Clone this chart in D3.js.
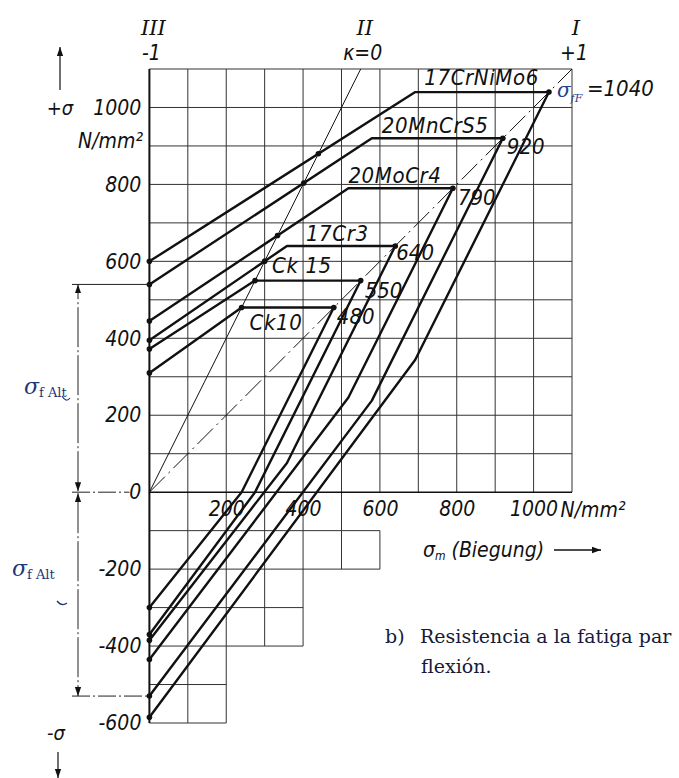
<!DOCTYPE html>
<html>
<head>
<meta charset="utf-8">
<script src="https://cdn.jsdelivr.net/npm/d3@7/dist/d3.min.js"></script>
<style>
  body { margin: 0; background: #fff; }
  svg { display: block; }
  .tech { font-family: 'Liberation Sans Narrow', 'DejaVu Sans Condensed', sans-serif; font-style: italic; fill: #111; }
  .serif { font-family: 'DejaVu Serif', serif; }
</style>
</head>
<body>
<svg id="chart" width="679" height="778"></svg>
<script>
// Smith diagram data (N/mm2)
const materials   = ["17CrNiMo6", "20MnCrS5", "20MoCr4", "17Cr3", "Ck 15", "Ck10"];
const sigmaF      = [1040, 920, 790, 640, 550, 480];      // plateau / end on the 45 deg line
const sigmaAUpper = [600, 540, 445, 395, 372, 310];       // upper line at sigma_m = 0
const sigmaALower = [-585, -530, -435, -385, -370, -300]; // lower line at sigma_m = 0
const kinkMean    = [692, 579, 518, 358, 275, 240];       // sigma_m where the plateau starts
const endLabels   = ["=1040", "920", "790", "640", "550", "480"];

const yTicks = [1000, 800, 600, 400, 200, 0, -200, -400, -600];
const xTicks = [200, 400, 600, 800, 1000];

// staircase grid below the x axis
const lowerRows = [[-100, 600], [-200, 600], [-300, 400], [-400, 400], [-500, 200], [-600, 200]];
const lowerCols = [[100, 0, -600], [200, 0, -600], [300, 0, -400], [400, 0, -400], [500, 0, -200], [600, -100, -200]];

// label placement (pixel offsets)
const nameOffset = [[9, -7], [10, -5], [0, -5], [19, -5], [17, -8], [8, 22]];
const endOffset  = [[38, 4], [4, 16], [5, 17], [1, 14], [4, 17], [3, 16]];

const svg = d3.select("#chart");
const x = d3.scaleLinear().domain([0, 1100]).range([149.4, 572]);
const y = d3.scaleLinear().domain([-600, 1100]).range([723, 69]);

const defs = svg.append("defs");
defs.append("marker").attr("id", "arr").attr("viewBox", "0 0 10 10")
  .attr("refX", 10).attr("refY", 5).attr("markerWidth", 9).attr("markerHeight", 9)
  .attr("markerUnits", "userSpaceOnUse").attr("orient", "auto-start-reverse")
  .append("path").attr("d", "M0,1.5L10,5L0,8.5Z").attr("fill", "#111");

const grid = svg.append("g").attr("stroke", "#333").attr("stroke-width", 1).attr("fill", "none");

// upper grid
grid.selectAll("line.v").data(d3.range(100, 1101, 100)).join("line").attr("class", "v")
  .attr("x1", d => x(d)).attr("x2", d => x(d)).attr("y1", y(0)).attr("y2", y(1100));
grid.selectAll("line.h").data(d3.range(100, 1101, 100)).join("line").attr("class", "h")
  .attr("x1", x(0)).attr("x2", x(1100)).attr("y1", d => y(d)).attr("y2", d => y(d));

// lower staircase grid
grid.selectAll("line.lh").data(lowerRows).join("line").attr("class", "lh")
  .attr("x1", x(0)).attr("x2", d => x(d[1])).attr("y1", d => y(d[0])).attr("y2", d => y(d[0]));
grid.selectAll("line.lv").data(lowerCols).join("line").attr("class", "lv")
  .attr("x1", d => x(d[0])).attr("x2", d => x(d[0])).attr("y1", d => y(d[1])).attr("y2", d => y(d[2]));

// x axis line and y axis line
svg.append("line").attr("x1", x(0)).attr("x2", x(1100)).attr("y1", y(0)).attr("y2", y(0))
  .attr("stroke", "#111").attr("stroke-width", 1.6);
svg.append("line").attr("x1", x(0)).attr("x2", x(0)).attr("y1", y(1100)).attr("y2", y(-600))
  .attr("stroke", "#111").attr("stroke-width", 2);

// reference lines: kappa = 0 (sigma = 2 sigma_m) and kappa = +1 (45 deg)
svg.append("line").attr("x1", x(0)).attr("y1", y(0)).attr("x2", x(550)).attr("y2", y(1100))
  .attr("stroke", "#111").attr("stroke-width", 1);
svg.append("line").attr("x1", x(0)).attr("y1", y(0)).attr("x2", x(1100)).attr("y2", y(1100))
  .attr("stroke", "#111").attr("stroke-width", 1).attr("stroke-dasharray", "22,5,2,5");

// material lines
const line = d3.line().x(d => x(d[0])).y(d => y(d[1]));
const upperPts = materials.map((m, i) => [[0, sigmaAUpper[i]], [kinkMean[i], sigmaF[i]], [sigmaF[i], sigmaF[i]]]);
const lowerPts = materials.map((m, i) => [[0, sigmaALower[i]], [kinkMean[i], 2 * kinkMean[i] - sigmaF[i]], [sigmaF[i], sigmaF[i]]]);

const mat = svg.append("g").attr("fill", "none").attr("stroke", "#111").attr("stroke-width", 2.4)
  .attr("stroke-linejoin", "round");
mat.selectAll("path.up").data(upperPts).join("path").attr("class", "up").attr("d", line);
mat.selectAll("path.lo").data(lowerPts).join("path").attr("class", "lo").attr("d", line);

// dots: axis intercepts, end points, crossings with kappa = 0
const dots = [];
materials.forEach((m, i) => {
  dots.push([0, sigmaAUpper[i]], [0, sigmaALower[i]], [sigmaF[i], sigmaF[i]]);
  const slope = (sigmaF[i] - sigmaAUpper[i]) / kinkMean[i];
  const sm = sigmaAUpper[i] / (2 - slope);
  dots.push([sm, 2 * sm]);
});
svg.append("g").selectAll("circle").data(dots).join("circle")
  .attr("cx", d => x(d[0])).attr("cy", d => y(d[1])).attr("r", 2.8).attr("fill", "#111");

// material names and end values
const labels = svg.append("g").attr("class", "tech").style("font-size", "22px").style("letter-spacing", "0.6px");
labels.selectAll("text.name").data(materials).join("text").attr("class", "name")
  .attr("x", (d, i) => x(kinkMean[i]) + nameOffset[i][0])
  .attr("y", (d, i) => y(sigmaF[i]) + nameOffset[i][1])
  .text(d => d);
labels.selectAll("text.end").data(endLabels).join("text").attr("class", "end")
  .style("letter-spacing", "0px")
  .attr("x", (d, i) => x(sigmaF[i]) + endOffset[i][0])
  .attr("y", (d, i) => y(sigmaF[i]) + endOffset[i][1])
  .text(d => d);
// sigma_fF in front of 1040
const sff = svg.append("text").attr("class", "serif").attr("fill", "#23408e")
  .attr("x", x(sigmaF[0]) + 8).attr("y", y(sigmaF[0]) + 5).style("font-size", "20px").style("font-style", "italic");
sff.append("tspan").text("σ");
sff.append("tspan").attr("dy", 5).style("font-size", "11px").text("fF");

// axes
const yAxis = d3.axisLeft(y).tickValues(yTicks).tickSize(0).tickPadding(8).tickFormat(d => String(d));
const gy = svg.append("g").attr("transform", `translate(${x(0)},0)`).call(yAxis);
gy.select(".domain").remove();
gy.selectAll("text").attr("class", "tech").style("font-size", "21px").attr("font-family", null);

const xAxis = d3.axisBottom(x).tickValues(xTicks).tickSize(0).tickPadding(9).tickFormat(d => String(d));
const gx = svg.append("g").attr("transform", `translate(0,${y(0)})`).call(xAxis);
gx.select(".domain").remove();
gx.selectAll("text").attr("class", "tech").style("font-size", "21px").attr("font-family", null);

svg.append("text").attr("class", "tech").attr("x", x(1000) + 27).attr("y", 517).style("font-size", "21px").text("N/mm²");
svg.append("text").attr("class", "tech").attr("x", 143).attr("y", 148).attr("text-anchor", "end").style("font-size", "21px").text("N/mm²");

// sigma_m label
const smLabel = svg.append("text").attr("class", "tech").attr("x", 423).attr("y", 557).style("font-size", "21px");
smLabel.append("tspan").text("σ");
smLabel.append("tspan").attr("dy", 3).style("font-size", "12px").text("m");
smLabel.append("tspan").attr("dy", -3).text(" (Biegung)");
svg.append("line").attr("x1", 554).attr("x2", 601).attr("y1", 550).attr("y2", 550)
  .attr("stroke", "#111").attr("stroke-width", 1.5).attr("marker-end", "url(#arr)");

// top labels for the stress ratios
const ratioLabels = svg.append("g").attr("class", "tech").style("font-size", "21px").attr("text-anchor", "middle");
[["III", "-1", 0], ["II", "κ=0", 550], ["I", "+1", 1100]].forEach(t => {
  ratioLabels.append("text").attr("x", x(t[2]) + 4).attr("y", 35).style("font-family", "'DejaVu Serif', serif").text(t[0]);
  ratioLabels.append("text").attr("x", x(t[2]) + 2).attr("y", 60).text(t[1]);
});

// +sigma / -sigma arrows
svg.append("text").attr("class", "tech").attr("x", 60).attr("y", 115).attr("text-anchor", "middle").style("font-size", "20px").text("+σ");
svg.append("line").attr("x1", 60).attr("x2", 60).attr("y1", 90).attr("y2", 47)
  .attr("stroke", "#111").attr("stroke-width", 1.2).attr("marker-end", "url(#arr)");
svg.append("text").attr("class", "tech").attr("x", 56).attr("y", 740).attr("text-anchor", "middle").style("font-size", "20px").text("-σ");
svg.append("line").attr("x1", 58).attr("x2", 58).attr("y1", 752).attr("y2", 778)
  .attr("stroke", "#111").attr("stroke-width", 1.2).attr("marker-end", "url(#arr)");

// dimension for sigma_f Alt
const dim = svg.append("g").attr("stroke", "#222").attr("stroke-width", 1).attr("fill", "none");
const dimX = 78;
[[sigmaAUpper[1], x(0)], [0, x(0) - 20], [sigmaALower[1], x(0)]].forEach(d => {
  dim.append("line").attr("x1", 72).attr("x2", d[1]).attr("y1", y(d[0])).attr("y2", y(d[0]))
    .attr("stroke-dasharray", d[0] === sigmaAUpper[1] ? null : "18,3,2,3");
});
dim.append("line").attr("x1", dimX).attr("x2", dimX).attr("y1", y(0) - 1).attr("y2", y(sigmaAUpper[1]))
  .attr("stroke-dasharray", "40,3,2,3").attr("marker-end", "url(#arr)").attr("marker-start", "url(#arr)");
dim.append("line").attr("x1", dimX).attr("x2", dimX).attr("y1", y(0) + 1).attr("y2", y(sigmaALower[1]))
  .attr("stroke-dasharray", "40,3,2,3").attr("marker-end", "url(#arr)").attr("marker-start", "url(#arr)");

function alt(xp, yp, big) {
  const t = svg.append("text").attr("class", "serif").attr("fill", "#1f3577").attr("x", xp).attr("y", yp);
  t.append("tspan").style("font-size", big + "px").style("font-style", "italic").text("σ");
  t.append("tspan").attr("dy", 3).style("font-size", "13px").text("f Alt");
}
alt(24, 394, 22);
alt(12, 576, 22);
svg.append("path").attr("d", "M62,396 q4,7 8,2").attr("stroke", "#1f3577").attr("fill", "none").attr("stroke-width", 1.2);
svg.append("path").attr("d", "M57,601 q5,6 10,2").attr("stroke", "#1f3577").attr("fill", "none").attr("stroke-width", 1.2);

// caption, as far as the scan shows it
const cap = svg.append("g").attr("class", "serif").attr("fill", "#161a3a").style("font-size", "19px");
cap.append("text").attr("x", 385).attr("y", 643).text("b)");
cap.append("text").attr("x", 420).attr("y", 643).text("Resistencia a la fatiga par");
cap.append("text").attr("x", 421).attr("y", 673).text("flexión.");
</script>
</body>
</html>
